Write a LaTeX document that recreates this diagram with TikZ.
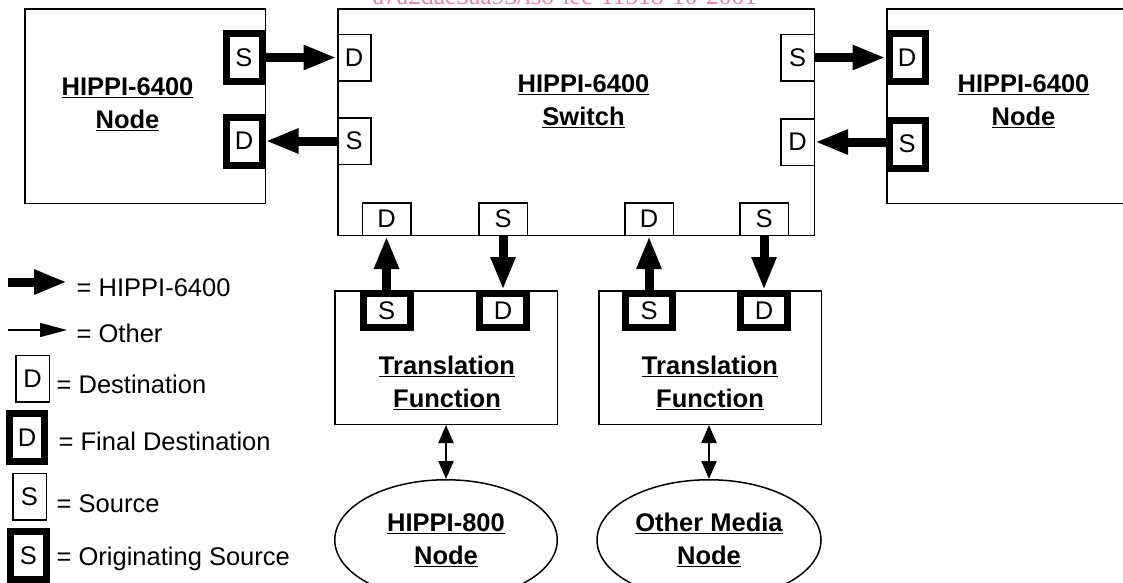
\documentclass[tikz,border=0pt]{standalone}
\usepackage{fontspec}
\setmainfont{Liberation Sans}
\newfontfamily\wmfont{Liberation Serif}
\usetikzlibrary{arrows.meta, shapes.geometric}

\definecolor{wmpink}{RGB}{238,130,162}
\newcommand{\bigfont}{\fontsize{25.5}{33}\selectfont}

\tikzset{
  box/.style={draw, line width=1.5pt, inner sep=0pt},
  port/.style={draw, line width=1.5pt, inner sep=0pt, minimum width=33.5pt, minimum height=46.5pt},
  bport/.style={port, minimum width=48.5pt, minimum height=32.5pt},
  fport/.style={draw, line width=7pt, inner sep=0pt, minimum width=36pt, minimum height=48pt},
  tport/.style={fport, minimum width=47pt, minimum height=34pt},
  title/.style={font=\bigfont\bfseries, align=center},
  legtext/.style={anchor=base west, inner sep=0pt},
  hippi/.style={line width=9pt, -{Triangle[length=33pt,width=23pt]}},
  other/.style={line width=2pt, {Triangle[length=18pt,width=15pt]}-{Triangle[length=18pt,width=15pt]}},
}

\begin{document}
\begin{tikzpicture}[x=1pt, y=-1pt, font=\bigfont]

    \useasboundingbox (0,0) rectangle (1123,582);

    % watermark at the top
    \node[anchor=base, inner sep=0pt, text=wmpink, font=\wmfont\fontsize{25.5}{30}\selectfont] (wmark) at (565,4.5) {a7a2dae3aa93/iso-iec-11518-10-2001};

    % left HIPPI-6400 node
    \node[box, minimum width=240.5pt, minimum height=194.5pt] (lnode) at (145,106) {};
    \node[title] (lname) at (127.5,104.5) {\underline{HIPPI-6400}\\\underline{Node}};
    \node[fport] (lnS) at (244,57.5) {S};
    \node[fport] (lnD) at (244,141) {D};

    % the switch
    \node[box, minimum width=476.5pt, minimum height=226.5pt] (sw) at (576,122) {};
    \node[title] (swname) at (583.5,101.5) {\underline{HIPPI-6400}\\\underline{Switch}};
    \node[port] (swD) at (354,57.5) {D};
    \node[port] (swS) at (354,141) {S};
    \node[port] (swSr) at (797.5,57.5) {S};
    \node[port] (swDr) at (797.5,142) {D};
    \node[bport] (swDa) at (386.5,219) {D};
    \node[bport] (swSa) at (503,219) {S};
    \node[bport] (swDb) at (649,219) {D};
    \node[bport] (swSb) at (764,219) {S};

    % right HIPPI-6400 node (runs off the page)
    \node[box, minimum width=260pt, minimum height=194.5pt] (rnode) at (1016.75,106) {};
    \node[title] (rname) at (1023.5,101.5) {\underline{HIPPI-6400}\\\underline{Node}};
    \node[fport] (rnD) at (907,57.5) {D};
    \node[fport] (rnS) at (907,144) {S};

    % translation functions
    \node[box, minimum width=222.5pt, minimum height=133.5pt] (tfa) at (446,357.5) {};
    \node[box, minimum width=222.5pt, minimum height=133.5pt] (tfb) at (710,357.5) {};
    \node[title] (tfaname) at (447,382.5) {\underline{Translation}\\\underline{Function}};
    \node[title] (tfbname) at (710,382.5) {\underline{Translation}\\\underline{Function}};
    \node[tport] (tfaS) at (386.5,310.5) {S};
    \node[tport] (tfaD) at (503,310.5) {D};
    \node[tport] (tfbS) at (649,310.5) {S};
    \node[tport] (tfbD) at (764,310.5) {D};

    % end nodes
    \node[ellipse, draw, line width=1.5pt, inner sep=1pt, minimum width=222.5pt, minimum height=120.5pt, title] (hnode) at (446,540) {\underline{HIPPI-800}\\\underline{Node}};
    \node[ellipse, draw, line width=1.5pt, inner sep=1pt, minimum width=224pt, minimum height=120.5pt, title] (mnode) at (709,540) {\underline{Other Media}\\\underline{Node}};

    % HIPPI-6400 links
    \draw[hippi] (lnS.east) -- (swD.west);
    \draw[hippi] (swS.west) -- (lnD.east);
    \draw[hippi] (swSr.east) -- (rnD.west);
    \draw[hippi] (rnS.west |- swDr.east) -- (swDr.east);
    \draw[hippi] (tfaS.north) -- (swDa.south);
    \draw[hippi] (swSa.south) -- (tfaD.north);
    \draw[hippi] (tfbS.north) -- (swDb.south);
    \draw[hippi] (swSb.south) -- (tfbD.north);

    % other links
    \draw[other] (tfa.south) -- (hnode.north);
    \draw[other] (tfb.south -| mnode.north) -- (mnode.north);

    % legend
    \coordinate (hipA) at (8,282);
    \coordinate (hipB) at (67,282);
    \draw[hippi] (hipA) -- (hipB);
    \node[legtext] (lhippi) at (76.5,296) {= HIPPI-6400};
    \coordinate (othA) at (8,330);
    \coordinate (othB) at (67,330);
    \draw[line width=1.5pt, -{Triangle[length=27pt,width=14pt]}] (othA) -- (othB);
    \node[legtext] (lother) at (76.5,342) {= Other};
    \node[port] (legD) at (32.5,378.5) {D};
    \node[legtext] (ldest) at (56.5,393) {= Destination};
    \node[fport, minimum width=35pt] (legFD) at (27,437.5) {D};
    \node[legtext] (lfdest) at (58.5,450) {= Final Destination};
    \node[port] (legS) at (29.5,496.5) {S};
    \node[legtext] (lsrc) at (56.5,512) {= Source};
    \node[fport] (legOS) at (28.5,555.5) {S};
    \node[legtext] (losrc) at (56.5,565) {= Originating Source};

\end{tikzpicture}
\end{document}
